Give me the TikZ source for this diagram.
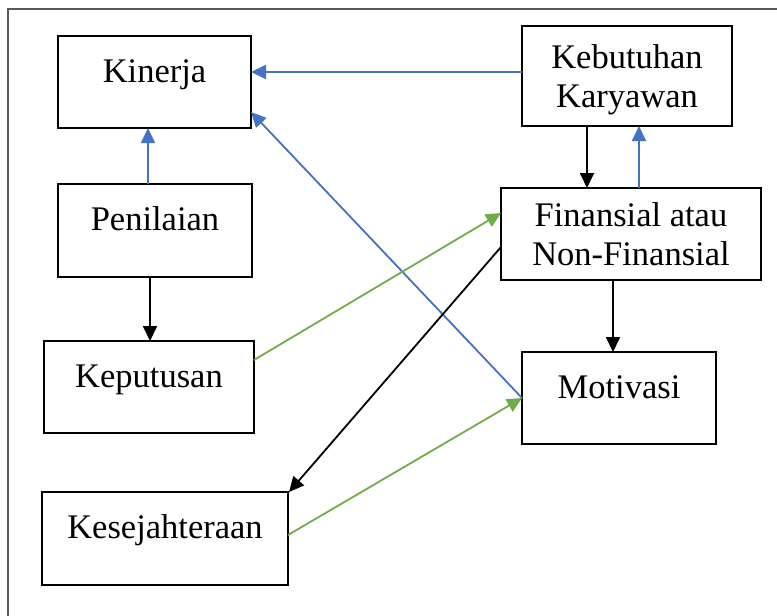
\documentclass[tikz,border=0pt]{standalone}
\usepackage{fontspec}
\setmainfont{Liberation Serif}
\usetikzlibrary{arrows.meta,calc}
\definecolor{myblue}{HTML}{4472C4}
\definecolor{mygreen}{HTML}{70AD47}
\begin{document}
\begin{tikzpicture}[x=1pt,y=-1pt,
  box/.style={draw=black,line width=2.5pt,rectangle,inner sep=0pt,outer sep=0pt,
    font=\fontsize{34.5}{39}\selectfont,align=center},
  one/.style={text height=0.75em,text depth=0.75em},
  conn/.style={line width=1.8pt,-{Triangle[length=15pt,width=14pt]}},
  bl/.style={conn,draw=myblue,fill=myblue},
  gr/.style={conn,draw=mygreen,fill=mygreen},
  bk/.style={conn,draw=black,fill=black}]
\useasboundingbox (0,0) rectangle (777,616);
\fill[white] (0,0) rectangle (777,616);
\draw[line width=1.5pt,gray!70!black] (8,620) -- (8,9) -- (780,9);

\node[box,one,minimum width=193pt,minimum height=92pt] (kin) at (154.5,82) {Kinerja};
\node[box,minimum width=210pt,minimum height=100pt] (keb) at (627,76) {\rule{0pt}{32pt}Kebutuhan\\Karyawan};
\node[box,minimum width=260pt,minimum height=92pt] (fin) at (631,234) {Finansial atau\\Non-Finansial};
\node[box,one,minimum width=194pt,minimum height=93pt] (pen) at (155,230.5) {Penilaian};
\node[box,one,minimum width=210pt,minimum height=92pt] (kep) at (149,387) {Keputusan};
\node[box,one,minimum width=194pt,minimum height=92pt] (mot) at (619,398) {Motivasi};
\node[box,one,minimum width=246pt,minimum height=93pt] (kes) at (165,538.5) {Kesejahteraan};

% Kebutuhan -> Kinerja
\coordinate (a1) at ([yshift=4pt]keb.west);
\draw[bl] (a1) -- (a1 -| kin.east);
% Penilaian -> Kinerja
\coordinate (a2) at ([xshift=-7pt]pen.north);
\draw[bl] (a2) -- (a2 |- kin.south);
% Motivasi -> Kinerja
\draw[bl] (mot.west) -- ([yshift=-30pt]kin.east);
% Penilaian -> Keputusan
\coordinate (a3) at ([xshift=-5pt]pen.south);
\draw[bk] (a3) -- (a3 |- kep.north);
% Keputusan -> Finansial
\draw[gr] ([yshift=27pt]kep.east) -- ([yshift=21pt]fin.west);
% Finansial -> Kesejahteraan
\draw[bk] ([yshift=-13pt]fin.west) -- ([xshift=1pt]kes.north east);
% Kesejahteraan -> Motivasi
\draw[gr] ([yshift=3.5pt]kes.east) -- (mot.west);
% Kebutuhan -> Finansial
\coordinate (a4) at ([xshift=-40pt]keb.south);
\draw[bk] (a4) -- (a4 |- fin.north);
% Finansial -> Kebutuhan
\coordinate (a5) at ([xshift=12pt]keb.south);
\draw[bl] (a5 |- fin.north) -- (a5);
% Finansial -> Motivasi
\coordinate (a6) at ([xshift=-6pt]mot.north);
\draw[bk] (a6 |- fin.south) -- (a6);
\end{tikzpicture}
\end{document}
